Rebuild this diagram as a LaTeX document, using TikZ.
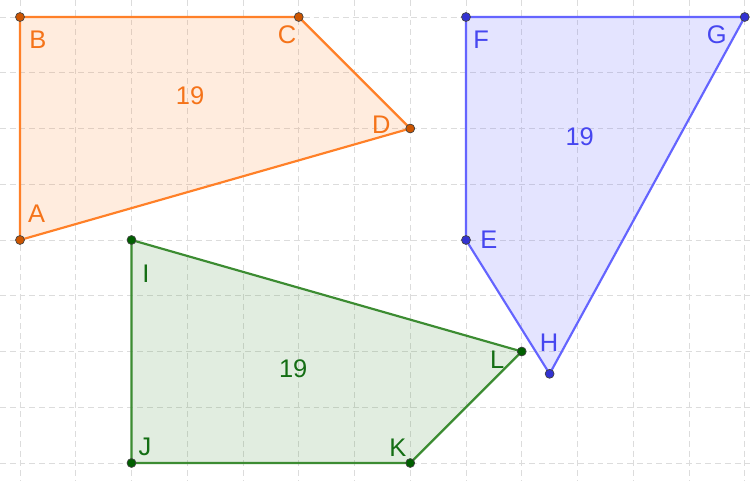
\documentclass[tikz,border=0pt]{standalone}
\usepackage{fontspec}
\setmainfont{Liberation Sans}
\definecolor{orline}{RGB}{255,128,40}
\definecolor{ortext}{RGB}{245,115,25}
\definecolor{ordot}{RGB}{205,85,0}
\definecolor{blline}{RGB}{100,100,255}
\definecolor{bltext}{RGB}{70,70,240}
\definecolor{bldot}{RGB}{50,50,210}
\definecolor{grline}{RGB}{60,140,50}
\definecolor{grtext}{RGB}{20,110,20}
\definecolor{grdot}{RGB}{0,95,0}
\definecolor{gridc}{RGB}{220,220,220}
\tikzset{
  gridline/.style={gridc, line width=0.5pt, dash pattern=on 3pt off 2pt},
  poly/.style={line width=1.1pt, line join=round},
  vdot/.style={circle, inner sep=0pt, minimum size=0.16cm, draw=black!75, line width=0.35pt},
  lab/.style={font=\fontsize{13}{14}\selectfont, inner sep=0pt}
}
\begin{document}
\begin{tikzpicture}
\useasboundingbox (-0.3587,-8.323) rectangle (13.130,0.3049);
\fill[white] (-0.3587,-8.323) rectangle (13.130,0.3049);
% grid
\foreach \x in {0,...,13} \draw[gridline] (\x,0.3049) -- (\x,-8.323);
\foreach \y in {0,...,8} \draw[gridline] (-0.3587,-\y) -- (13.130,-\y);
% vertices
\coordinate (A) at (0,-4);
\coordinate (B) at (0,0);
\coordinate (C) at (5,0);
\coordinate (D) at (7,-2);
\coordinate (F) at (8,0);
\coordinate (G) at (13,0);
\coordinate (H) at (9.5,-6.4);
\coordinate (E) at (8,-4);
\coordinate (I) at (2,-4);
\coordinate (J) at (2,-8);
\coordinate (K) at (7,-8);
\coordinate (L) at (9,-6);
% polygons
\fill[orline, fill opacity=0.15] (A) -- (B) -- (C) -- (D) -- cycle;
\draw[poly, orline] (A) -- (B) -- (C) -- (D) -- cycle;
\fill[blline, fill opacity=0.17] (F) -- (G) -- (H) -- (E) -- cycle;
\draw[poly, blline] (F) -- (G) -- (H) -- (E) -- cycle;
\fill[grline, fill opacity=0.15] (I) -- (J) -- (K) -- (L) -- cycle;
\draw[poly, grline] (I) -- (J) -- (K) -- (L) -- cycle;
% dots
\foreach \p in {A,B,C,D} \node[vdot, fill=ordot] (d\p) at (\p) {};
\foreach \p in {E,F,G,H} \node[vdot, fill=bldot] (d\p) at (\p) {};
\foreach \p in {I,J,K,L} \node[vdot, fill=grdot] (d\p) at (\p) {};
% labels
\node[lab, text=ortext] (lA) at (0.30,-3.53) {A};
\node[lab, text=ortext] (lB) at (0.32,-0.41) {B};
\node[lab, text=ortext] (lC) at (4.79,-0.32) {C};
\node[lab, text=ortext] (lD) at (6.48,-1.94) {D};
\node[lab, text=ortext] (aO) at (3.05,-1.42) {19};
\node[lab, text=bltext] (lF) at (8.27,-0.41) {F};
\node[lab, text=bltext] (lG) at (12.50,-0.32) {G};
\node[lab, text=bltext] (lE) at (8.41,-4.0) {E};
\node[lab, text=bltext] (lH) at (9.49,-5.85) {H};
\node[lab, text=bltext] (aB) at (10.04,-2.15) {19};
\node[lab, text=grtext] (lI) at (2.26,-4.61) {I};
\node[lab, text=grtext] (lJ) at (2.24,-7.71) {J};
\node[lab, text=grtext] (lK) at (6.78,-7.73) {K};
\node[lab, text=grtext] (lL) at (8.56,-6.15) {L};
\node[lab, text=grtext] (aG) at (4.90,-6.31) {19};
\end{tikzpicture}
\end{document}
